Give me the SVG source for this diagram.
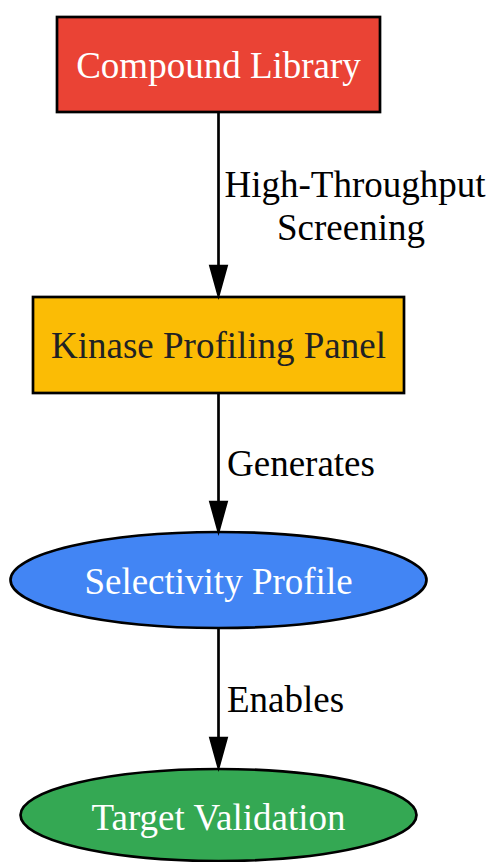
<svg xmlns="http://www.w3.org/2000/svg" width="490" height="862" viewBox="0 0 490 862">
<style>
text{font-family:"Liberation Serif","Times New Roman",serif;font-size:37px;}
.node{stroke:#000;stroke-width:2.7;}
.edge{stroke:#000;stroke-width:2.7;fill:none;}
.head{fill:#000;stroke:#000;stroke-width:2.7;}
.lbl{fill:#000;}
</style>
<rect width="490" height="862" fill="#fff"/>
<g id="compound_library">
<rect class="node" x="57" y="17" width="323" height="95" fill="#EA4335"/>
<text x="218.5" y="78" text-anchor="middle" fill="#fff">Compound Library</text>
</g>
<g id="kinase_panel">
<rect class="node" x="33" y="297" width="371" height="96" fill="#FBBC05"/>
<text x="218.5" y="358" text-anchor="middle" fill="#202124">Kinase Profiling Panel</text>
</g>
<g id="selectivity_profile">
<ellipse class="node" cx="218.5" cy="580" rx="208" ry="48" fill="#4285F4"/>
<text x="218.5" y="594" text-anchor="middle" fill="#fff">Selectivity Profile</text>
</g>
<g id="target_validation">
<ellipse class="node" cx="218.5" cy="815" rx="198" ry="46" fill="#34A853"/>
<text x="218.5" y="830" text-anchor="middle" fill="#fff">Target Validation</text>
</g>
<g id="connectors">
<line class="edge" x1="218.5" y1="112" x2="218.5" y2="266"/>
<polygon class="head" points="210.5,266 226.5,266 218.5,295"/>
<text class="lbl" x="355" y="197" text-anchor="middle">High-Throughput</text>
<text class="lbl" x="351" y="240" text-anchor="middle">Screening</text>
<line class="edge" x1="218.5" y1="393" x2="218.5" y2="502"/>
<polygon class="head" points="210.5,502 226.5,502 218.5,531"/>
<text class="lbl" x="227" y="476">Generates</text>
<line class="edge" x1="218.5" y1="628" x2="218.5" y2="738"/>
<polygon class="head" points="210.5,738 226.5,738 218.5,767"/>
<text class="lbl" x="227" y="712">Enables</text>
</g>
</svg>
